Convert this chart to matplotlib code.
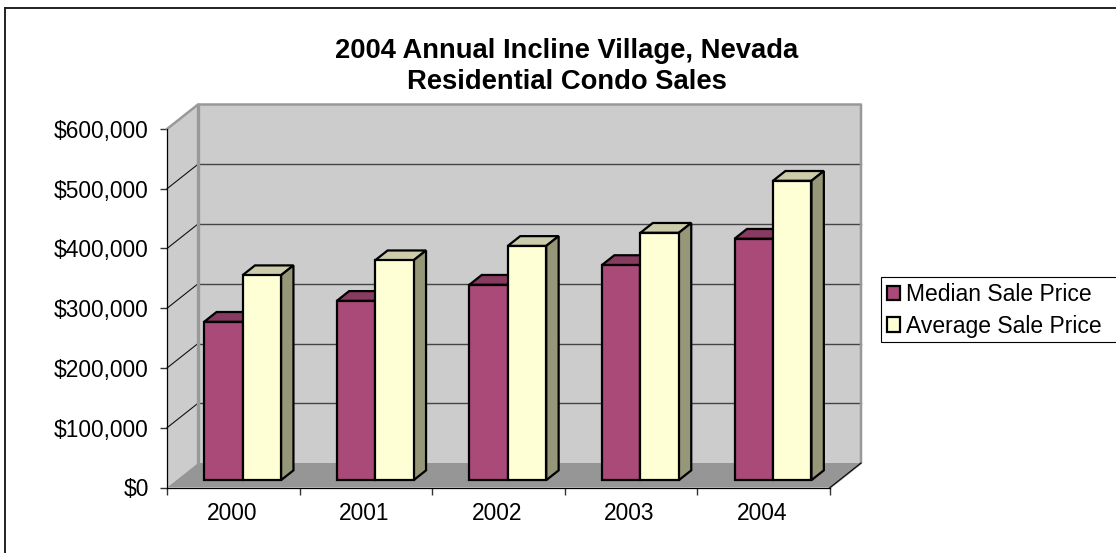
import numpy as np
import matplotlib
matplotlib.use("Agg")
import matplotlib.pyplot as plt
from matplotlib.lines import Line2D
from matplotlib.patches import Patch, Polygon, Rectangle

plt.rcParams['font.family'] = ['Liberation Sans', 'DejaVu Sans']

# Data
years = ['2000', '2001', '2002', '2003', '2004']
median_price = [265000, 300000, 327000, 360000, 404000]
average_price = [343000, 368000, 392000, 414000, 501000]
y_ticks = [0, 100000, 200000, 300000, 400000, 500000, 600000]

# colours
wall_col = '#CCCCCC'
wall_edge = '#999999'
floor_col = '#969696'
median_cols = ('#A94A78', '#873B60')
average_cols = ('#FFFFD6', '#CCCCAB', '#969678')

W, H = 1116, 553
fig = plt.figure(figsize=(W / 100, H / 100), dpi=100)

# axes box = the front plane of the fake 3d chart
ax_left, ax_right, ax_top, ax_bottom = 167, 830, 129, 487.5
ax = fig.add_axes([ax_left / W, 1 - ax_bottom / H, (ax_right - ax_left) / W, (ax_bottom - ax_top) / H])
ax.set_xlim(0, len(years))
ax.set_ylim(0, 600000)
ax.patch.set_visible(False)

# oblique depth of the plot, in data units
depth_x = 31 / ((ax_right - ax_left) / len(years))
depth_y = 24.5 / ((ax_bottom - ax_top) / 600000)


def poly(points, **kw):
    ax.add_patch(Polygon(points, closed=True, clip_on=False, **kw))


x_max = len(years)
y_max = y_ticks[-1]

# walls and floor
poly([(depth_x, depth_y), (x_max + depth_x, depth_y), (x_max + depth_x, y_max + depth_y), (depth_x, y_max + depth_y)],
     facecolor=wall_col, edgecolor='none', zorder=1)
poly([(0, 0), (depth_x, depth_y), (depth_x, y_max + depth_y), (0, y_max)],
     facecolor=wall_col, edgecolor='none', zorder=1)
poly([(0, 0), (x_max, 0), (x_max + depth_x, depth_y), (depth_x, depth_y)],
     facecolor=floor_col, edgecolor='none', zorder=1)

# grid on back wall and side wall
for v in y_ticks[1:-1]:
    ax.plot([depth_x, x_max + depth_x], [v + depth_y, v + depth_y], color='#444444', lw=1.0, clip_on=False, zorder=2)
    ax.plot([0, depth_x], [v, v + depth_y], color='#111111', lw=0.8, clip_on=False, zorder=2)

# wall outline
ax.plot([0, depth_x, x_max + depth_x, x_max + depth_x, x_max], [y_max, y_max + depth_y, y_max + depth_y, depth_y, 0],
        color=wall_edge, lw=1.8, clip_on=False, zorder=2)
ax.plot([depth_x, depth_x], [depth_y, y_max + depth_y], color=wall_edge, lw=2.4, clip_on=False, zorder=2)
ax.plot([x_max, x_max + depth_x], [0, depth_y], color='black', lw=0.8, clip_on=False, zorder=2)

# bars
bar_w = 0.29
front = 0.30
back = 0.70
lw = 1.6
base = front * depth_y
top_dx = (back - front) * depth_x
top_dy = (back - front) * depth_y
z = 3
for i in range(len(years)):
    x0 = i + 0.5 + front * depth_x - bar_w
    for x, val, cols in [(x0, median_price[i], median_cols), (x0 + bar_w, average_price[i], average_cols)]:
        side_col = cols[2] if len(cols) > 2 else cols[1]
        poly([(x, base + val), (x + bar_w, base + val), (x + bar_w + top_dx, base + val + top_dy), (x + top_dx, base + val + top_dy)],
             facecolor=cols[1], edgecolor='black', lw=lw, zorder=z)
        poly([(x + bar_w, base), (x + bar_w + top_dx, base + top_dy), (x + bar_w + top_dx, base + val + top_dy), (x + bar_w, base + val)],
             facecolor=side_col, edgecolor='black', lw=lw, zorder=z)
        ax.bar(x, val, bar_w, bottom=base, align='edge', color=cols[0], edgecolor='black', lw=lw, clip_on=False, zorder=z + 1)
        z += 2

# axes
for s in ['top', 'right']:
    ax.spines[s].set_visible(False)
for s in ['left', 'bottom']:
    ax.spines[s].set_zorder(20)
    ax.spines[s].set_linewidth(0.9)
ax.set_yticks(y_ticks)
ax.set_yticklabels(['$' + format(v, ',') for v in y_ticks], fontsize=16.4)
ax.set_xticks(np.arange(len(years) + 1))
ax.set_xticklabels([''] * (len(years) + 1))
ax.tick_params(axis='both', length=5, width=1.0, color='#333333')
ax.tick_params(axis='y', pad=8)
for i, year in enumerate(years):
    ax.annotate(year, (i + 0.5, 0), xytext=(-1.1, -18.7), textcoords='offset points', ha='center', va='center', fontsize=16.4)

# chart border, only top and left are in the picture
for xs, ys in [((5.3, 5.3), (8, H)), ((5.3, W), (8, 8))]:
    fig.add_artist(Line2D([x / W for x in xs], [1 - y / H for y in ys], color='#222222', lw=1.4))

fig.text(566.5 / W, 1 - 66.4 / H, '2004 Annual Incline Village, Nevada\nResidential Condo Sales', ha='center', va='center',
         fontsize=19.7, fontweight='bold', linespacing=1.26)

# legend box goes right up to the edge of the image
fig.add_artist(Rectangle((881 / W, 1 - 342 / H), 240 / W, 65 / H, transform=fig.transFigure,
                         facecolor='white', edgecolor='black', lw=0.8))
handles = [Patch(facecolor=median_cols[0], edgecolor='black', lw=1.6, label='Median Sale Price'),
           Patch(facecolor=average_cols[0], edgecolor='black', lw=1.6, label='Average Sale Price')]
leg = fig.legend(handles=handles, loc='center left', bbox_to_anchor=(881 / W, 1 - 310.5 / H), fontsize=16.5,
                 frameon=False, borderpad=0.27, labelspacing=0.36,
                 handlelength=0.58, handleheight=0.58, handletextpad=0.25, borderaxespad=0)

fig.savefig('out.png', dpi=100)
